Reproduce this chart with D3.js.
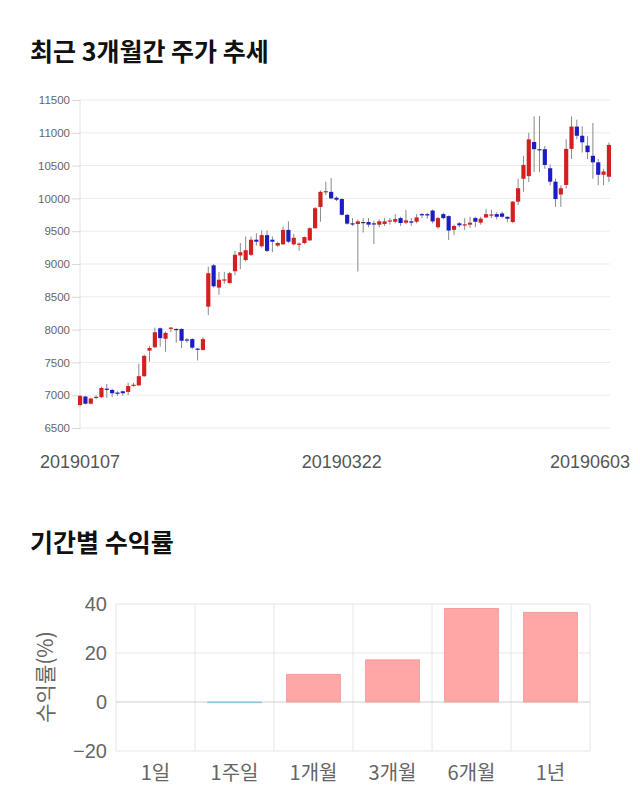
<!DOCTYPE html>
<html>
<head>
<meta charset="utf-8">
<script src="https://cdn.jsdelivr.net/npm/d3@7/dist/d3.min.js"></script>
<style>
  html, body { margin: 0; padding: 0; background: #fff; }
  svg { display: block; }
</style>
</head>
<body>
<svg id="chart" width="640" height="810"></svg>
<script>
// ---------- DATA ----------
const openP  = [6850,6980,6870,6960,6970,7100,7080,7040,7060,7050,7150,7150,7290,7680,7730,8020,7860,8020,8010,8010,
                7850,7855,7710,7690,8350,8980,8640,8760,8710,8890,9130,9060,9140,9370,9270,9440,9370,9280,9300,9520,
                9300,9300,9320,9360,9545,9870,10100,10100,10010,9990,9750,9620,9610,9640,9640,9620,9600,9610,9660,9645,
                9700,9630,9650,9645,9760,9760,9815,9560,9760,9730,9520,9620,9600,9600,9700,9630,9710,9750,9760,9770,
                9720,9640,9950,10300,10340,10860,10750,10750,10460,10255,10060,10205,10755,11095,10955,10805,10650,10550,10360,10330];
const closeP = [6990,6870,6950,6975,7110,7090,7030,7035,7030,7140,7160,7290,7600,7720,7960,7870,7950,8030,8005,7830,
                7845,7725,7695,7855,8860,8660,8760,8765,8860,9140,9180,9210,9370,9340,9440,9200,9340,9320,9520,9340,
                9400,9310,9410,9545,9850,10100,10110,10000,9980,9750,9615,9615,9650,9640,9600,9615,9650,9650,9665,9685,
                9625,9665,9630,9710,9745,9740,9650,9700,9700,9510,9580,9590,9605,9630,9645,9690,9760,9755,9720,9720,
                9690,9950,10155,10510,10900,10750,10740,10510,10255,9990,10155,10755,11095,10955,10855,10705,10550,10360,10410,10815];
const highP  = [7000,6990,6960,7000,7130,7170,7100,7060,7070,7190,7190,7480,7620,7750,8030,8030,7970,8040,8020,8020,
                7870,7870,7720,7880,8960,9000,8880,8880,8880,9200,9320,9420,9420,9470,9510,9510,9420,9340,9570,9650,
                9460,9330,9420,9560,9870,10120,10255,10310,10030,10000,9760,9700,9680,9700,9700,9660,9680,9700,9700,9760,
                9720,9825,9700,9760,9780,9780,9830,9720,9780,9740,9600,9640,9700,9720,9720,9720,9840,9830,9790,9800,
                9720,9960,10300,10650,11000,11250,11255,10800,10520,10300,10200,10900,11250,11200,11100,10950,11150,10600,10450,10850];
const lowP   = [6830,6860,6860,6940,6960,6960,6970,6990,6990,7000,7130,7140,7280,7510,7720,7740,7660,7960,7800,7720,
                7800,7700,7530,7680,8220,8640,8530,8700,8700,8830,8920,9040,9120,9280,9250,9180,9180,9260,9290,9320,
                9280,9200,9300,9350,9540,9645,10050,9990,9960,9740,9600,9580,8885,9480,9560,9305,9560,9580,9600,9620,
                9580,9610,9580,9620,9700,9690,9620,9540,9680,9365,9440,9560,9520,9550,9560,9600,9700,9700,9680,9700,
                9640,9620,9900,10100,10250,10400,10400,10450,10200,9870,9870,10150,10600,10900,10700,10600,10300,10200,10200,10250];
const priceTicks = [6500,7000,7500,8000,8500,9000,9500,10000,10500,11000,11500];
const dateLabels = ["20190107","20190322","20190603"];
const dateLabelIndex = [0, 49, 99];

const periods = ["1일","1주일","1개월","3개월","6개월","1년"];
const returns = [0, -0.3, 11.3, 17.2, 38.2, 36.6];
const returnTicks = [-20, 0, 20, 40];

// ---------- DRAW ----------
const svg = d3.select("#chart");
const FONT = "'Liberation Sans', Arial, sans-serif";
const KFONT = "'Noto Sans CJK KR', 'Noto Sans', sans-serif";

// Titles
svg.append("text").attr("x", 30).attr("y", 61)
  .attr("font-family", KFONT).attr("font-weight", 700).attr("font-size", 25)
  .attr("fill", "#111").text("최근 3개월간 주가 추세");
svg.append("text").attr("x", 30).attr("y", 552)
  .attr("font-family", KFONT).attr("font-weight", 700).attr("font-size", 25)
  .attr("fill", "#111").text("기간별 수익률");

// ---- Candlestick chart ----
const n = openP.length;
const x = d3.scaleBand().domain(d3.range(n)).range([78, 611]).paddingInner(0.22);
const y = d3.scaleLinear().domain([6500, 11500]).range([428, 100]);

const g1 = svg.append("g");
g1.selectAll("line.grid").data(priceTicks).join("line")
  .attr("x1", 80).attr("x2", 610)
  .attr("y1", d => y(d)).attr("y2", d => y(d))
  .attr("stroke", "#ececec").attr("stroke-width", 1);
g1.append("line").attr("x1", 80).attr("x2", 80).attr("y1", 100).attr("y2", 430)
  .attr("stroke", "#e2e2e2");

const yAxis = g1.append("g").attr("transform", "translate(80,0)")
  .call(d3.axisLeft(y).tickValues(priceTicks).tickSize(8).tickPadding(2).tickFormat(d3.format("d")));
yAxis.select(".domain").remove();
yAxis.selectAll(".tick line").attr("stroke", "#d8d8d8");
yAxis.selectAll(".tick text").attr("font-family", FONT).attr("font-size", 11.5).attr("fill", "#666");

const candles = g1.append("g").selectAll("g").data(d3.range(n)).join("g");
candles.append("line")
  .attr("x1", i => x(i) + x.bandwidth() / 2).attr("x2", i => x(i) + x.bandwidth() / 2)
  .attr("y1", i => y(highP[i])).attr("y2", i => y(lowP[i]))
  .attr("stroke", "#8a8a8a").attr("stroke-width", 1);
candles.append("rect")
  .attr("x", i => x(i)).attr("width", x.bandwidth())
  .attr("y", i => y(Math.max(openP[i], closeP[i])))
  .attr("height", i => Math.max(1.2, Math.abs(y(openP[i]) - y(closeP[i]))))
  .attr("fill", i => closeP[i] > openP[i] ? "#d41f1f" : (closeP[i] < openP[i] ? "#1c1cc4" : "#333"));

g1.selectAll("text.date").data(dateLabels).join("text")
  .attr("class", "date")
  .attr("x", (d, k) => Math.min(x(dateLabelIndex[k]) + x.bandwidth() / 2, 590))
  .attr("y", 468)
  .attr("text-anchor", "middle")
  .attr("font-family", FONT).attr("font-size", 18).attr("fill", "#555")
  .text(d => d);

// ---- Returns bar chart ----
const x2 = d3.scaleBand().domain(periods).range([116, 590]).paddingInner(0.32).paddingOuter(0.16);
const y2 = d3.scaleLinear().domain([-20, 40]).range([751, 604]);
const g2 = svg.append("g");

const bounds = d3.range(periods.length + 1).map(k => 116 + k * x2.step());
g2.selectAll("line.vg").data(bounds).join("line")
  .attr("x1", d => d).attr("x2", d => d).attr("y1", 604).attr("y2", 751)
  .attr("stroke", "#e6e6e6");
g2.selectAll("line.hg").data(returnTicks).join("line")
  .attr("x1", 116).attr("x2", 590)
  .attr("y1", d => y2(d)).attr("y2", d => y2(d))
  .attr("stroke", d => d === 0 ? "#cfcfcf" : "#e6e6e6");

const yAxis2 = g2.append("g").attr("transform", "translate(116,0)")
  .call(d3.axisLeft(y2).tickValues(returnTicks).tickSize(0).tickPadding(9));
yAxis2.select(".domain").remove();
yAxis2.selectAll(".tick text").attr("font-family", FONT).attr("font-size", 20).attr("fill", "#666");

g2.selectAll("rect.bar").data(periods).join("rect")
  .attr("x", d => x2(d)).attr("width", x2.bandwidth())
  .attr("y", (d, k) => y2(Math.max(0, returns[k])))
  .attr("height", (d, k) => Math.abs(y2(returns[k]) - y2(0)))
  .attr("fill", (d, k) => returns[k] >= 0 ? "#ffa6a6" : "#a9d3e6")
  .attr("stroke", (d, k) => returns[k] >= 0 ? "#f29393" : "#8fc3da")
  .attr("stroke-width", 0.8);

g2.selectAll("text.cat").data(periods).join("text")
  .attr("x", d => x2(d) + x2.bandwidth() / 2)
  .attr("y", 780)
  .attr("text-anchor", "middle")
  .attr("font-family", KFONT).attr("font-size", 20).attr("fill", "#666")
  .text(d => d);

svg.append("text")
  .attr("transform", "translate(53,677) rotate(-90)")
  .attr("text-anchor", "middle")
  .attr("font-family", KFONT).attr("font-size", 21).attr("fill", "#666")
  .text("수익률(%)");
</script>
</body>
</html>
